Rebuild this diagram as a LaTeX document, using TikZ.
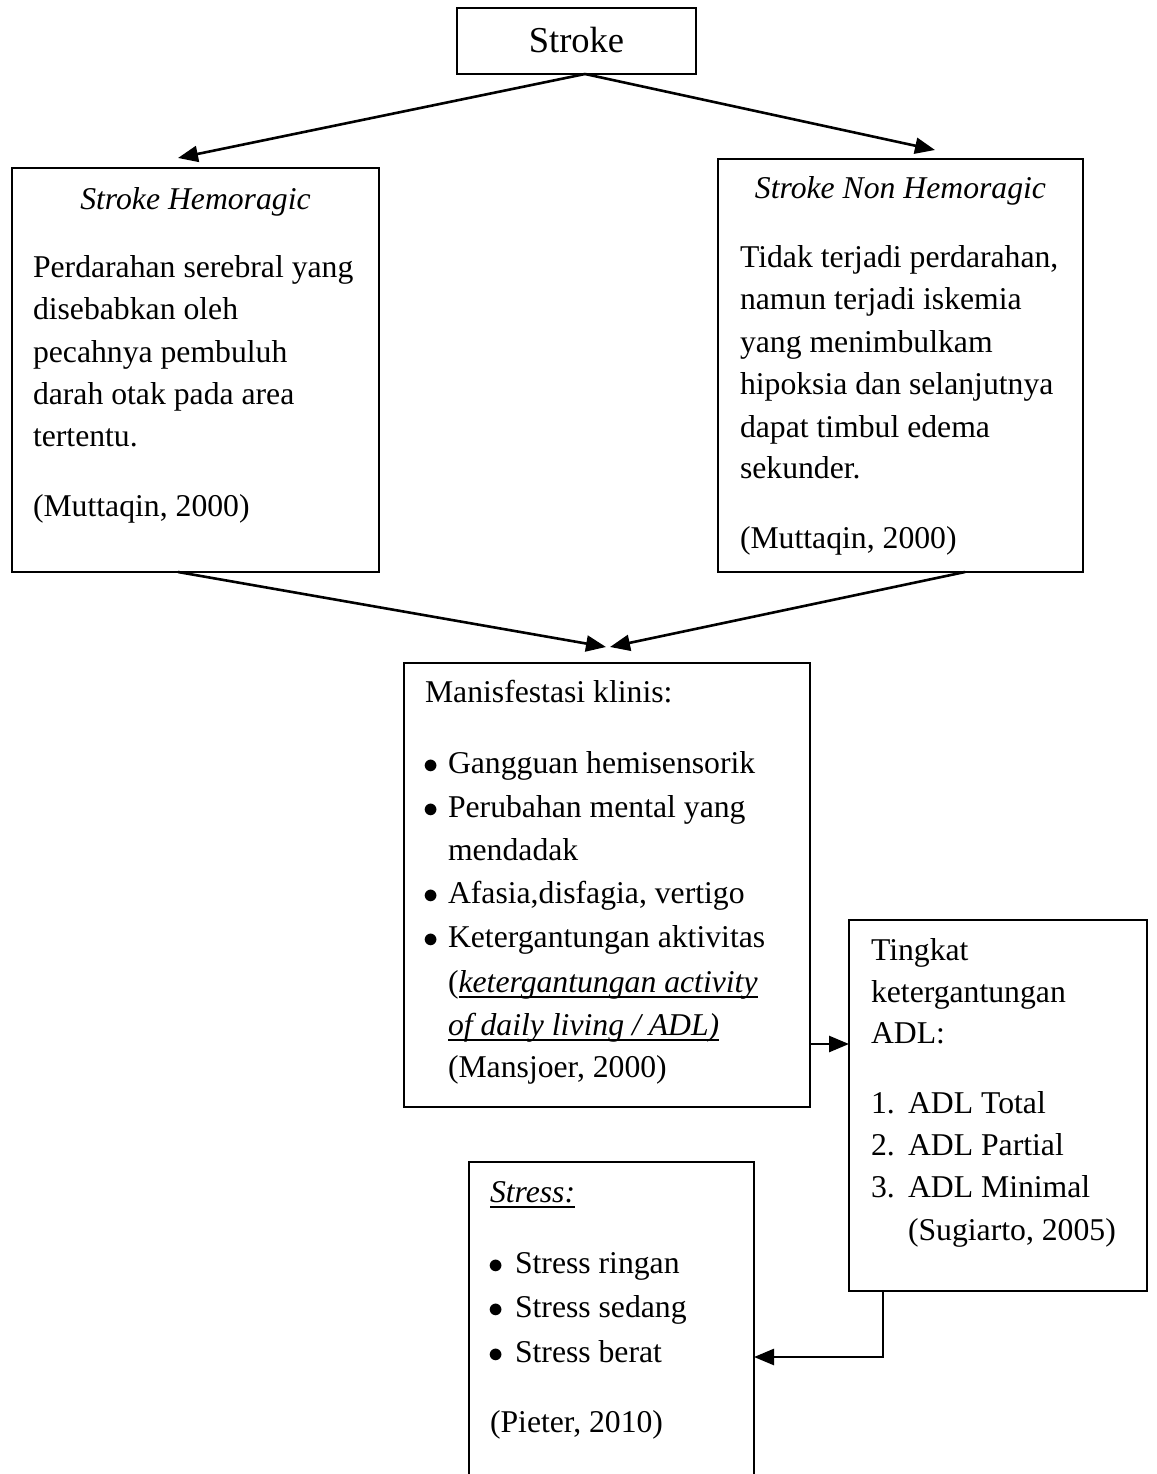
\documentclass[tikz,border=0pt]{standalone}
\usepackage{fontspec}
\usepackage{graphicx}
\setmainfont{Liberation Serif}
\usetikzlibrary{arrows.meta}
\newcommand\bodyfnt{\fontsize{31.7}{42}\selectfont}
\newcommand\titlefnt{\fontsize{36.5}{44}\selectfont}
\newsavebox\ulbox
\newcommand\ul[1]{\sbox\ulbox{#1}\rlap{\rule[-5.5pt]{\wd\ulbox}{1.8pt}}\usebox\ulbox}
\newcommand\bigbul{\raisebox{-0.5pt}{\scalebox{1.22}{$\bullet$}}}
\newcommand\bul{\makebox[23pt][l]{\hspace{-2pt}\bigbul}}
\newcommand\sbul{\makebox[25pt][l]{\hspace{-2pt}\bigbul}}
\tikzset{
  box/.style={draw, line width=1.6pt, inner sep=0pt, outer sep=0pt, anchor=north west},
  txt/.style={anchor=base west, inner sep=0pt, outer sep=0pt, font=\bodyfnt},
  ctxt/.style={anchor=base, inner sep=0pt, outer sep=0pt, font=\bodyfnt},
  conn/.style={line width=2.6pt, -{Triangle[length=20pt,width=16pt]}},
}
\begin{document}
\begin{tikzpicture}[x=1pt,y=-1pt]
\useasboundingbox (0,0) rectangle (1156,1474);
\clip (0,0) rectangle (1156,1474);
\fill[white] (0,0) rectangle (1156,1474);

% boxes
\node[box, minimum width=239pt, minimum height=66pt] (stroke) at (457,8) {};
\node[box, minimum width=367pt, minimum height=404pt] (hem) at (12,168) {};
\node[box, minimum width=365pt, minimum height=413pt] (nonhem) at (718,159) {};
\node[box, minimum width=406pt, minimum height=444pt] (man) at (404,663) {};
\node[box, minimum width=298pt, minimum height=371pt] (adl) at (849,920) {};
\node[box, minimum width=285pt, minimum height=340pt] (stress) at (469,1162) {};

% Stroke
\node[anchor=base, inner sep=0pt, font=\titlefnt] (strokeT) at (576.5,53) {Stroke};

% Hemoragic
\node[ctxt] (hemT) at (195.5,209) {\textit{Stroke Hemoragic}};
\node[txt] (hem1) at (33,277) {Perdarahan serebral yang};
\node[txt] (hem2) at (33,319) {disebabkan oleh};
\node[txt] (hem3) at (33,362) {pecahnya pembuluh};
\node[txt] (hem4) at (33,404) {darah otak pada area};
\node[txt] (hem5) at (33,446) {tertentu.};
\node[txt] (hem6) at (33,516) {(Muttaqin, 2000)};

% Non Hemoragic
\node[ctxt] (nonT) at (900.5,198) {\textit{Stroke Non Hemoragic}};
\node[txt] (non1) at (740,267) {Tidak terjadi perdarahan,};
\node[txt] (non2) at (740,309) {namun terjadi iskemia};
\node[txt] (non3) at (740,352) {yang menimbulkam};
\node[txt] (non4) at (740,394) {hipoksia dan selanjutnya};
\node[txt] (non5) at (740,437) {dapat timbul edema};
\node[txt] (non6) at (740,478) {sekunder.};
\node[txt] (non7) at (740,548) {(Muttaqin, 2000)};

% Manifestasi
\node[txt] (man0) at (425,702) {Manisfestasi klinis:};
\node[txt] (man1) at (425,773) {\bul Gangguan hemisensorik};
\node[txt] (man2) at (425,817) {\bul Perubahan mental yang};
\node[txt] (man3) at (448,860) {mendadak};
\node[txt] (man4) at (425,903) {\bul Afasia,disfagia, vertigo};
\node[txt] (man5) at (425,947) {\bul Ketergantungan aktivitas};
\node[txt] (man6) at (448,992) {(\ul{\textit{ketergantungan activity}}};
\node[txt] (man7) at (448,1035) {\ul{\textit{of daily living / ADL)}}};
\node[txt] (man8) at (448,1077) {(Mansjoer, 2000)};

% ADL
\node[txt] (adl1) at (871,960) {Tingkat};
\node[txt] (adl2) at (871,1002) {ketergantungan};
\node[txt] (adl3) at (871,1043) {ADL:};
\node[txt] (adl4n) at (871,1113) {1.};
\node[txt] (adl4) at (908,1113) {ADL Total};
\node[txt] (adl5n) at (871,1155) {2.};
\node[txt] (adl5) at (908,1155) {ADL Partial};
\node[txt] (adl6n) at (871,1197) {3.};
\node[txt] (adl6) at (908,1197) {ADL Minimal};
\node[txt] (adl7) at (908,1240) {(Sugiarto, 2005)};

% Stress
\node[txt] (st0) at (490,1202) {\ul{\textit{Stress:}}};
\node[txt] (st1) at (490,1273) {\sbul Stress ringan};
\node[txt] (st2) at (490,1317) {\sbul Stress sedang};
\node[txt] (st3) at (490,1362) {\sbul Stress berat};
\node[txt] (st4) at (490,1432) {(Pieter, 2010)};

% connectors
\draw[conn] ([xshift=8.5pt]stroke.south) -- ([xshift=-17.5pt,yshift=10pt]hem.north);
\draw[conn] ([xshift=8.5pt]stroke.south) -- ([xshift=34.5pt,yshift=9pt]nonhem.north);
\draw[conn] ([xshift=-17.5pt]hem.south) -- ([xshift=-1pt,yshift=16pt]man.north);
\draw[conn] ([xshift=64.5pt]nonhem.south) -- ([xshift=3pt,yshift=16pt]man.north);
\draw[conn] ([yshift=-159pt]man.east) -- ([yshift=-159pt]man.east -| adl.west);
\draw[line width=2.6pt] ([xshift=-115pt]adl.south) -- ([xshift=15pt]adl.south);
\draw[conn] ([xshift=-115pt]adl.south) |- ([yshift=-25pt]stress.east);
\end{tikzpicture}
\end{document}
